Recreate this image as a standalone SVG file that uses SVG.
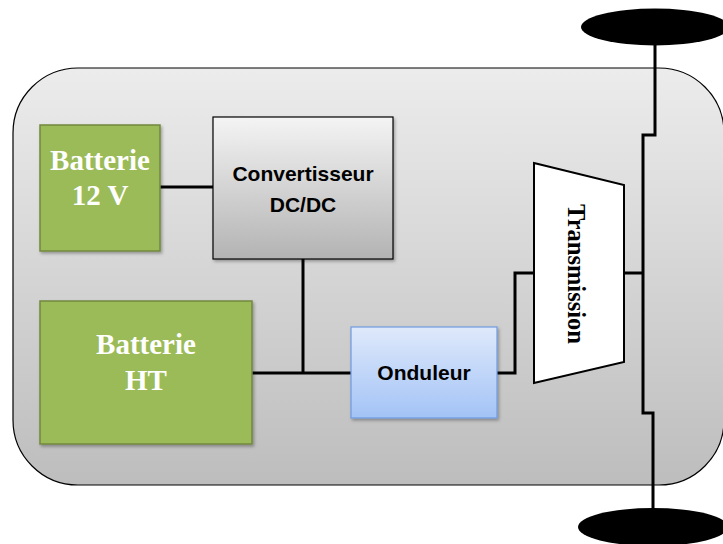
<svg xmlns="http://www.w3.org/2000/svg" width="723" height="544" viewBox="0 0 723 544">
<defs>
<linearGradient id="gBg" x1="0" y1="0" x2="0" y2="1"><stop offset="0" stop-color="#ececec"/><stop offset="1" stop-color="#bdbdbd"/></linearGradient>
<linearGradient id="gConv" x1="0" y1="0" x2="0" y2="1"><stop offset="0" stop-color="#f4f4f4"/><stop offset="1" stop-color="#b3b3b3"/></linearGradient>
<linearGradient id="gOnd" x1="0" y1="0" x2="0" y2="1"><stop offset="0" stop-color="#dfe9fb"/><stop offset="1" stop-color="#a3c3f6"/></linearGradient>
<filter id="sh" x="-10%" y="-10%" width="130%" height="130%"><feDropShadow dx="1.5" dy="2" stdDeviation="1.5" flood-color="#000" flood-opacity="0.3"/></filter>
</defs>
<style>
.wire{fill:none;stroke:#000;stroke-width:3}
.batt{fill:#9bbb59;stroke:#71893f;stroke-width:1.5}
.bt{font-family:"Liberation Serif","Times New Roman",serif;font-weight:bold;font-size:29px;fill:#fff;text-anchor:middle}
.st{font-family:"Liberation Sans",Arial,sans-serif;font-weight:bold;font-size:21px;fill:#000;text-anchor:middle}
</style>
<g id="chassis">
<rect x="13" y="68" width="711" height="417" rx="65" ry="65" fill="url(#gBg)" stroke="#000" stroke-width="1.2"/>
</g>
<g id="connectors">
<path class="wire" d="M160,187 H213"/>
<path class="wire" d="M303,259 V373"/>
<path class="wire" d="M252,373 H351"/>
<path class="wire" d="M497,373 H515 V273 H534"/>
<path class="wire" d="M624,273 H643"/>
<path class="wire" d="M655,40 V135 H643 V413 H653 V515"/>
</g>
<g id="wheel-top"><ellipse cx="655" cy="27" rx="74" ry="18.5" fill="#000"/></g>
<g id="wheel-bottom"><ellipse cx="653" cy="527" rx="75" ry="19" fill="#000"/></g>
<g id="batterie-12v">
<rect class="batt" x="40" y="125" width="120" height="126" filter="url(#sh)"/>
<text class="bt" x="100" y="170">Batterie</text>
<text class="bt" x="100" y="205">12 V</text>
</g>
<g id="convertisseur">
<rect x="213" y="117" width="180" height="142" fill="url(#gConv)" stroke="#000" stroke-width="1.2" filter="url(#sh)"/>
<text class="st" x="303" y="181">Convertisseur</text>
<text class="st" x="303" y="212">DC/DC</text>
</g>
<g id="batterie-ht">
<rect class="batt" x="40" y="301" width="212" height="143" filter="url(#sh)"/>
<text class="bt" x="146" y="354">Batterie</text>
<text class="bt" x="146" y="390">HT</text>
</g>
<g id="onduleur">
<rect x="351" y="327" width="146" height="91" fill="url(#gOnd)" stroke="#6f9ae0" stroke-width="1.2" filter="url(#sh)"/>
<text class="st" x="424" y="380">Onduleur</text>
</g>
<g id="transmission">
<polygon points="534,163 624,185 624,362 534,383" fill="#fff" stroke="#000" stroke-width="2"/>
<text x="0" y="0" transform="translate(568,274) rotate(90)" font-family="'Liberation Serif','Times New Roman',serif" font-weight="bold" font-size="24.5" text-anchor="middle">Transmission</text>
</g>
</svg>
